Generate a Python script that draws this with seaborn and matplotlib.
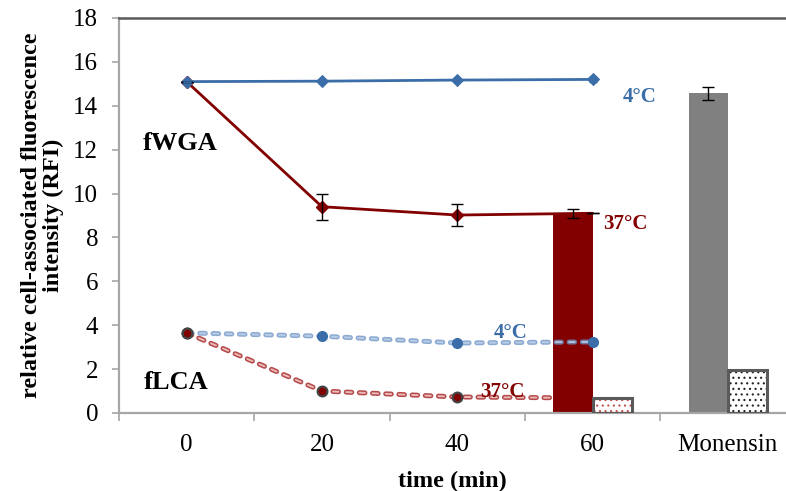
import numpy as np
import pandas as pd
import matplotlib
matplotlib.use('Agg')
import matplotlib.pyplot as plt
from matplotlib.patches import Rectangle
import seaborn as sns

# categories on the x axis
categories = ['0', '20', '40', '60', 'Monensin']
time_pos = [0, 1, 2, 3]

# fWGA lines
wga_4c = [15.1, 15.12, 15.17, 15.2]
wga_4c_err = [0, 0, 0.05, 0.1]
wga_37c = [15.1, 9.4, 9.02, 9.1]
wga_37c_err = [0, 0.6, 0.5, 0]

# fLCA lines
lca_4c = [3.65, 3.5, 3.19, 3.24]
lca_37c = [3.65, 1.0, 0.73, 0.68]

# bars at 60 min and Monensin
bar_cats = ['60', '60', 'Monensin', 'Monensin']
bar_lectin = ['fWGA', 'fLCA', 'fWGA', 'fLCA']
bar_vals = [9.1, 0.66, 14.57, 1.96]
bar_err = [0.2, 0, 0.29, 0]

bars = pd.DataFrame({'cat': bar_cats, 'lectin': bar_lectin, 'val': bar_vals, 'err': bar_err})

sns.set_theme(style='white')
plt.rcParams['font.family'] = ['Liberation Serif', 'DejaVu Serif']
plt.rcParams['lines.scale_dashes'] = False
plt.rcParams['hatch.linewidth'] = 0.8
for k in ['text.color', 'axes.labelcolor', 'xtick.color', 'ytick.color']:
    plt.rcParams[k] = 'black'

BLUE = '#3b6ea8'
DRED = '#820000'

fig = plt.figure(figsize=(7.86, 4.91), dpi=100)
ax = fig.add_axes([0.1514, 0.1589, 0.8486, 0.8045])

sns.barplot(data=bars, x='cat', y='val', hue='lectin', order=categories,
            hue_order=['fWGA', 'fLCA'], width=0.58, errorbar=None,
            legend=False, ax=ax, zorder=2)

for p in list(ax.patches):
    w = p.get_width()
    mid = p.get_x() + w / 2
    cat = int(round(p.get_x() + w))
    h = p.get_height()
    if mid < cat:
        # left bar: fWGA
        p.set_facecolor(DRED if categories[cat] == '60' else '#808080')
        p.set_edgecolor('none')
        err = bars.loc[(bars['cat'] == categories[cat]) & (bars['lectin'] == 'fWGA'), 'err'].iloc[0]
        ax.errorbar(mid, h, yerr=err, fmt='none', ecolor='black', elinewidth=1,
                    capsize=4, capthick=1, zorder=6)
    else:
        # right bar: fLCA, dotted
        p.set_facecolor('white')
        p.set_hatch('...')
        p.set_edgecolor('#c0504d' if categories[cat] == '60' else '#222222')
        p.set_linewidth(0)
        ax.add_patch(Rectangle((p.get_x(), 0), w, h, fill=False,
                               edgecolor='#5a5a5a', linewidth=2.2, zorder=3))

# fWGA solid lines
sns.lineplot(x=time_pos, y=wga_4c, color=BLUE, linewidth=2, marker='D',
             markersize=6, markeredgecolor=BLUE, ax=ax, zorder=4)
ax.plot(time_pos, wga_37c, color=DRED, linewidth=2, marker='D', markersize=6,
        markevery=[0, 1, 2], zorder=1.5)
ax.errorbar(time_pos, wga_37c, yerr=wga_37c_err, fmt='none', ecolor='black',
            elinewidth=1, capsize=4, capthick=1, zorder=6)
ax.errorbar(time_pos, wga_4c, yerr=wga_4c_err, fmt='none', ecolor=BLUE,
            elinewidth=1, capsize=3, capthick=1, zorder=6)

# fLCA dashed double lines
ax.plot(time_pos, lca_37c, color='#b5494a', linewidth=3.6, dashes=(4, 5.5),
        dash_capstyle='round', zorder=1.4)
ax.plot(time_pos, lca_37c, color='#eab9b8', linewidth=1.4, dashes=(4, 5.5),
        dash_capstyle='round', zorder=1.45)
ax.plot(time_pos[:3], lca_37c[:3], linestyle='none', marker='o', markersize=7,
        markerfacecolor=DRED, markeredgecolor='#444444', markeredgewidth=1.6, zorder=5)

ax.plot(time_pos, lca_4c, color='#6f95c6', linewidth=3.6, dashes=(4, 5.5),
        dash_capstyle='round', alpha=0.8, zorder=4)
ax.plot(time_pos, lca_4c, color='#c3d5ea', linewidth=1.4, dashes=(4, 5.5),
        dash_capstyle='round', alpha=0.8, zorder=4.1)
ax.plot(time_pos[1:], lca_4c[1:], linestyle='none', marker='o', markersize=7,
        color=BLUE, zorder=5)
ax.plot(time_pos[:1], lca_37c[:1], linestyle='none', marker='o', markersize=7,
        markerfacecolor=DRED, markeredgecolor='#444444', markeredgewidth=1.6, zorder=5.5)

# text labels
ax.text(-0.325, 12.3, 'fWGA', fontsize=19, fontweight='bold', va='center', ha='left')
ax.text(-0.317, 1.38, 'fLCA', fontsize=19, fontweight='bold', va='center', ha='left')
ax.text(3.22, 14.42, '4°C', fontsize=15, fontweight='bold', color=BLUE, va='center')
ax.text(3.08, 8.6, '37°C', fontsize=15, fontweight='bold', color=DRED, va='center')
ax.text(2.27, 3.65, '4°C', fontsize=15, fontweight='bold', color=BLUE, va='center')
ax.text(2.17, 0.95, '37°C', fontsize=15, fontweight='bold', color=DRED, va='center')

# axes
ax.set_xlim(-0.5, 4.43)
ax.set_ylim(0, 18)
ax.set_yticks(np.arange(0, 19, 2))
ax.set_xticks(range(len(categories)))
ax.set_xticklabels(categories)
ax.set_xticks(np.arange(-0.5, 4.5, 1), minor=True)
ax.tick_params(axis='x', which='major', length=0, pad=15, labelsize=18)
ax.tick_params(axis='x', which='minor', length=6, width=1.2, color='#a6a6a6', direction='out', bottom=True)
ax.tick_params(axis='y', length=5, width=1.2, color='#a6a6a6', direction='out', pad=10, labelsize=18, left=True)

ax.spines['right'].set_visible(False)
ax.spines['left'].set_color('#a6a6a6')
ax.spines['left'].set_linewidth(1.6)
ax.spines['bottom'].set_color('#a6a6a6')
ax.spines['bottom'].set_linewidth(1.6)
ax.spines['top'].set_color('#5a5a5a')
ax.spines['top'].set_linewidth(1.8)

ax.set_xlabel('time (min)', fontsize=17.5, fontweight='bold', labelpad=11)
ax.set_ylabel('relative cell-associated fluorescence\nintensity (RFI)', fontsize=17.5,
              fontweight='bold', linespacing=1.02)
ax.yaxis.set_label_coords(-0.083, 0.5)

fig.savefig('out.png', dpi=100)
